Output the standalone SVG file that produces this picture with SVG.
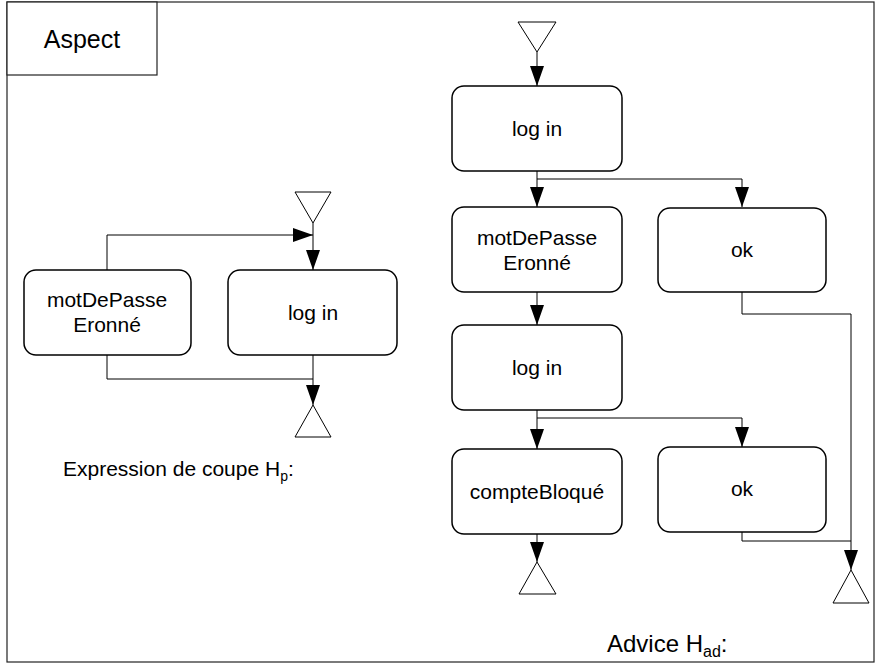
<svg xmlns="http://www.w3.org/2000/svg" width="877" height="664" viewBox="0 0 877 664">
<style>
.box{fill:#fff;stroke:#000;stroke-width:1.5}
.tri{fill:#fff;stroke:#000;stroke-width:1}
.ln{fill:none;stroke:#000;stroke-width:1}
.t{font-family:"Liberation Sans",Arial,sans-serif;font-size:21px;fill:#000;text-anchor:middle}
.lab{font-family:"Liberation Sans",Arial,sans-serif;font-size:21px;fill:#000}
</style>
<defs>
<marker id="ah" markerUnits="userSpaceOnUse" markerWidth="20" markerHeight="14" refX="20" refY="7" orient="auto">
<path d="M0,0 L20,7 L0,14 z" fill="#000"/>
</marker>
</defs>
<rect x="0" y="0" width="877" height="664" fill="#fff"/>
<g id="frame">
<rect x="7" y="2" width="867" height="660" fill="none" stroke="#222" stroke-width="1.2"/>
<rect x="7" y="2" width="150" height="73" fill="#fff" stroke="#222" stroke-width="1.2"/>
<text class="t" x="82" y="48" style="font-size:25px">Aspect</text>
</g>
<g id="connectors">
<polygon class="tri" points="295,192 331,192 313,223"/>
<path class="ln" d="M313,223 V270" marker-end="url(#ah)"/>
<path class="ln" d="M107,270 V235 H313" marker-end="url(#ah)"/>
<path class="ln" d="M313,355 V405" marker-end="url(#ah)"/>
<path class="ln" d="M107,355 V379 H313"/>
<polygon class="tri" points="313,405 295,437 331,437"/>

<polygon class="tri" points="518,22 556,22 537,52"/>
<path class="ln" d="M537,52 V86" marker-end="url(#ah)"/>
<path class="ln" d="M537,171 V207" marker-end="url(#ah)"/>
<path class="ln" d="M537,179 H742 V207" marker-end="url(#ah)"/>
<path class="ln" d="M537,292 V325" marker-end="url(#ah)"/>
<path class="ln" d="M537,410 V449" marker-end="url(#ah)"/>
<path class="ln" d="M537,418 H742 V447" marker-end="url(#ah)"/>
<path class="ln" d="M537,534 V562" marker-end="url(#ah)"/>
<polygon class="tri" points="537,562 519,594 556,594"/>
<path class="ln" d="M742,292 V314 H851 V570" marker-end="url(#ah)"/>
<path class="ln" d="M742,532 V541 H851"/>
<polygon class="tri" points="851,570 833,603 869,603"/>
</g>
<g id="n1"><rect class="box" x="24" y="270" width="167" height="85" rx="12"/><text class="t" x="107" y="307">motDePasse</text><text class="t" x="107" y="332">Eronné</text></g>
<g id="n2"><rect class="box" x="228" y="270" width="169" height="85" rx="12"/><text class="t" x="313" y="320">log in</text></g>
<g id="n3"><rect class="box" x="452" y="86" width="170" height="85" rx="12"/><text class="t" x="537" y="136">log in</text></g>
<g id="n4"><rect class="box" x="452" y="207" width="170" height="85" rx="12"/><text class="t" x="537" y="245">motDePasse</text><text class="t" x="537" y="270">Eronné</text></g>
<g id="n5"><rect class="box" x="658" y="208" width="168" height="84" rx="12"/><text class="t" x="742" y="257">ok</text></g>
<g id="n6"><rect class="box" x="452" y="325" width="170" height="85" rx="12"/><text class="t" x="537" y="375">log in</text></g>
<g id="n7"><rect class="box" x="452" y="449" width="170" height="85" rx="12"/><text class="t" x="537" y="499">compteBloqué</text></g>
<g id="n8"><rect class="box" x="658" y="447" width="168" height="85" rx="12"/><text class="t" x="742" y="496">ok</text></g>
<text class="lab" x="63" y="476">Expression de coupe H<tspan font-size="14" dy="5">p</tspan><tspan dy="-5">:</tspan></text>
<text class="lab" x="607" y="652" style="font-size:24px">Advice H<tspan font-size="16" dy="5">ad</tspan><tspan dy="-5">:</tspan></text>
</svg>
